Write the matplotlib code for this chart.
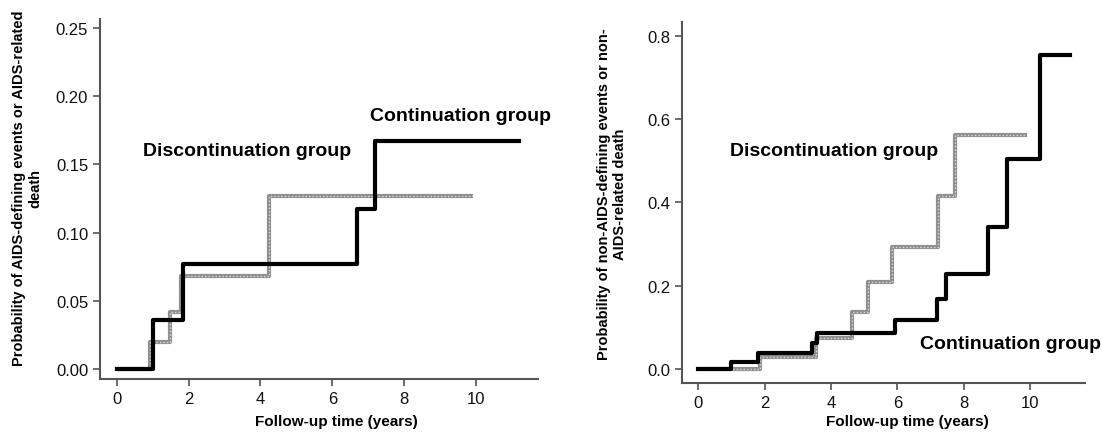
import matplotlib
matplotlib.use("Agg")
import matplotlib.pyplot as plt

plt.rcParams['font.family'] = ['Liberation Sans', 'DejaVu Sans']

# left panel: AIDS-defining events or AIDS-related death
aids_cont_t = [0, 1.0, 1.85, 6.7, 7.2, 11.2]
aids_cont_p = [0, 0.036, 0.077, 0.117, 0.167, 0.167]
aids_disc_t = [0, 0.93, 1.48, 1.8, 4.23, 9.92]
aids_disc_p = [0, 0.020, 0.042, 0.068, 0.127, 0.127]

# right panel: non-AIDS-defining events or non-AIDS-related death
non_cont_t = [0, 1.0, 1.81, 3.42, 3.57, 5.93, 7.19, 7.46, 8.74, 9.30, 10.30, 11.2]
non_cont_p = [0, 0.016, 0.038, 0.062, 0.086, 0.118, 0.168, 0.228, 0.34, 0.504, 0.754, 0.754]
non_disc_t = [0, 1.86, 3.54, 4.62, 5.13, 5.85, 7.22, 7.74, 9.92]
non_disc_p = [0, 0.028, 0.074, 0.136, 0.208, 0.293, 0.416, 0.561, 0.561]

xticks = [0, 2, 4, 6, 8, 10]
yticks_left = [0.00, 0.05, 0.10, 0.15, 0.20, 0.25]
yticks_right = [0.0, 0.2, 0.4, 0.6, 0.8]

fig = plt.figure(figsize=(11.02, 4.35), dpi=100)
ax1 = fig.add_axes([0.0907, 0.1264, 0.3975, 0.8276])
ax2 = fig.add_axes([0.6189, 0.1172, 0.3657, 0.83])


def draw_disc(ax, t, p):
    ax.step(t, p, where='post', color='#8f8f8f', lw=3.0, solid_capstyle='butt', zorder=2)
    ax.step(t, p, where='post', color='#d8d8d8', lw=1.0, ls=(0, (1, 1.5)), zorder=3)


def style(ax):
    for s in ['top', 'right']:
        ax.spines[s].set_visible(False)
    for s in ['left', 'bottom']:
        ax.spines[s].set_color('#555555')
        ax.spines[s].set_linewidth(1.5)
    ax.tick_params(direction='out', length=5, width=1.2, color='#555555',
                   labelsize=12, labelcolor='#111111')
    ax.set_xticks(xticks)
    ax.set_xlabel('Follow-up time (years)', fontsize=11, fontweight='bold')


# left
draw_disc(ax1, aids_disc_t, aids_disc_p)
ax1.step(aids_cont_t, aids_cont_p, where='post', color='black', lw=3.0, zorder=4)
style(ax1)
ax1.set_xlim(-0.47, 11.73)
ax1.set_ylim(-0.0073, 0.2566)
ax1.set_yticks(yticks_left)
ax1.set_yticklabels(['%.2f' % v for v in yticks_left])
ax1.set_ylabel('Probability of AIDS-defining events or AIDS-related\ndeath',
               fontsize=10.5, fontweight='bold')
ax1.yaxis.set_label_coords(-0.132, 0.533)
ax1.xaxis.set_label_coords(0.539, -0.097)
ax1.text(3.63, 0.160, 'Discontinuation group', fontsize=14, fontweight='bold',
         ha='center', va='center')
ax1.text(9.58, 0.1857, 'Continuation group', fontsize=14, fontweight='bold',
         ha='center', va='center')

# right
draw_disc(ax2, non_disc_t, non_disc_p)
ax2.step(non_cont_t, non_cont_p, where='post', color='black', lw=3.0, zorder=4)
style(ax2)
ax2.set_xlim(-0.49, 11.66)
ax2.set_ylim(-0.034, 0.833)
ax2.set_yticks(yticks_right)
ax2.set_yticklabels(['%.1f' % v for v in yticks_right])
ax2.set_ylabel('Probability of non-AIDS-defining events or non-\nAIDS-related death',
               fontsize=10.5, fontweight='bold')
ax2.yaxis.set_label_coords(-0.136, 0.526)
ax2.xaxis.set_label_coords(0.558, -0.086)
ax2.text(4.08, 0.524, 'Discontinuation group', fontsize=14, fontweight='bold',
         ha='center', va='center')
ax2.text(9.40, 0.060, 'Continuation group', fontsize=14, fontweight='bold',
         ha='center', va='center', clip_on=False)

fig.savefig('out.png', dpi=100)
